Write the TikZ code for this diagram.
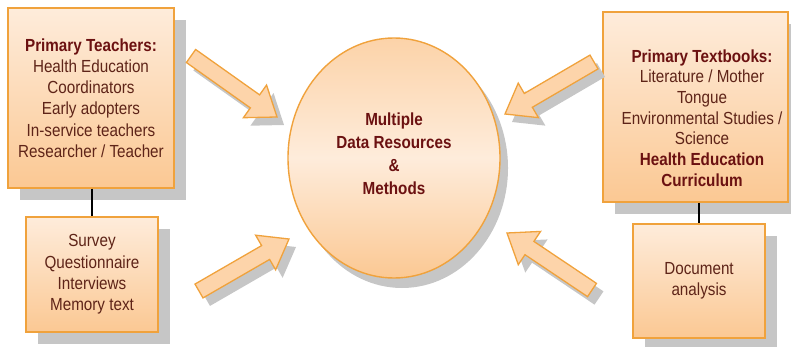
\documentclass[tikz,border=0pt]{standalone}
\usepackage{fontspec}
\setmainfont{Liberation Sans}[FakeStretch=0.87]
\usetikzlibrary{shapes.geometric,calc}

\definecolor{boxtop}{HTML}{FEECDB}
\definecolor{boxbot}{HTML}{FBC893}
\definecolor{edge}{HTML}{F0A23C}
\definecolor{shade}{HTML}{C6C6C6}
\definecolor{titlered}{HTML}{6B1111}
\definecolor{bodybrown}{HTML}{5E2418}
\definecolor{arrowfill}{HTML}{FDD4AA}

\newcommand\bodyfont{\fontsize{17.5}{21.3}\selectfont}

\tikzset{
  panel/.style={draw=edge, line width=1.4pt, top color=boxtop, bottom color=boxbot,
    inner sep=0pt, align=center, text=bodybrown, font=\bodyfont,
    preaction={fill=shade, transform canvas={shift={(12pt,-12pt)}}}},
  hub/.style={ellipse, draw=edge, line width=1.4pt, top color=boxbot!70!boxtop,
    bottom color=boxbot, middle color=boxtop, inner sep=0pt,
    preaction={fill=shade, transform canvas={shift={(8pt,-10pt)}}}},
  label/.style={align=center, text=bodybrown, font=\bodyfont, inner sep=0pt},
  link/.style={line width=2pt, black},
  arrowbody/.style={draw=edge, line width=1.3pt, fill=arrowfill, line join=miter,
    preaction={fill=shade, draw=none, transform canvas={shift={(7pt,-8pt)}}}},
  title/.style={font=\bodyfont\bfseries, text=titlered}
}

% block arrow from tail #2 to tip #3
\newcommand\blockarrow[3]{%
  \coordinate (#1-t) at #2;
  \coordinate (#1-p) at #3;
  \coordinate (#1-b) at ($(#1-p)!27pt!(#1-t)$);
  \draw[arrowbody] ($(#1-t)!8pt!90:(#1-p)$) -- ($(#1-b)!8pt!90:(#1-p)$)
    -- ($(#1-b)!20pt!90:(#1-p)$) -- (#1-p) -- ($(#1-b)!20pt!-90:(#1-p)$)
    -- ($(#1-b)!8pt!-90:(#1-p)$) -- ($(#1-t)!8pt!-90:(#1-p)$) -- cycle;
}

\begin{document}
\begin{tikzpicture}[x=1pt, y=-1pt]
\useasboundingbox (0,0) rectangle (791,347);

% central hub
\node[hub, minimum width=212pt, minimum height=240pt] (hub) at (394,158) {};
\node[label, font=\fontsize{17.5}{23}\selectfont\bfseries, text=titlered] (hubtext) at (394,154)
  {Multiple\\Data Resources\\\&\\Methods};

% teachers side
\node[panel, minimum width=166pt, minimum height=180pt] (teach) at (91,98)
  {{\bfseries\color{titlered}Primary Teachers:}\\Health Education\\Coordinators\\Early adopters\\In-service teachers\\Researcher / Teacher};
\node[panel, minimum width=132pt, minimum height=115pt] (survey) at (92,274.5)
  {Survey\\Questionnaire\\Interviews\\Memory text};
\draw[link] (survey.north |- teach.south) -- (survey.north);

% textbooks side
\node[panel, minimum width=185pt, minimum height=190pt] (books) at (695.5,107) {};
\node[label, font=\fontsize{17.5}{20.7}\selectfont] (bookstext) at (702,118)
  {{\bfseries\color{titlered}Primary Textbooks:}\\Literature / Mother\\Tongue\\Environmental Studies /\\Science\\{\bfseries\color{titlered}Health Education}\\{\bfseries\color{titlered}Curriculum}};
\node[panel, minimum width=132pt, minimum height=114pt] (docs) at (699,281)
  {Document\\analysis};
\draw[link] (docs.north |- books.south) -- (docs.north);

% arrows into the hub
\blockarrow{a1}{(191,56)}{(277,117)}
\blockarrow{a2}{(199,291)}{(289,239)}
\blockarrow{a3}{(594,62)}{(505,114)}
\blockarrow{a4}{(592,290)}{(507,233)}
\end{tikzpicture}
\end{document}
